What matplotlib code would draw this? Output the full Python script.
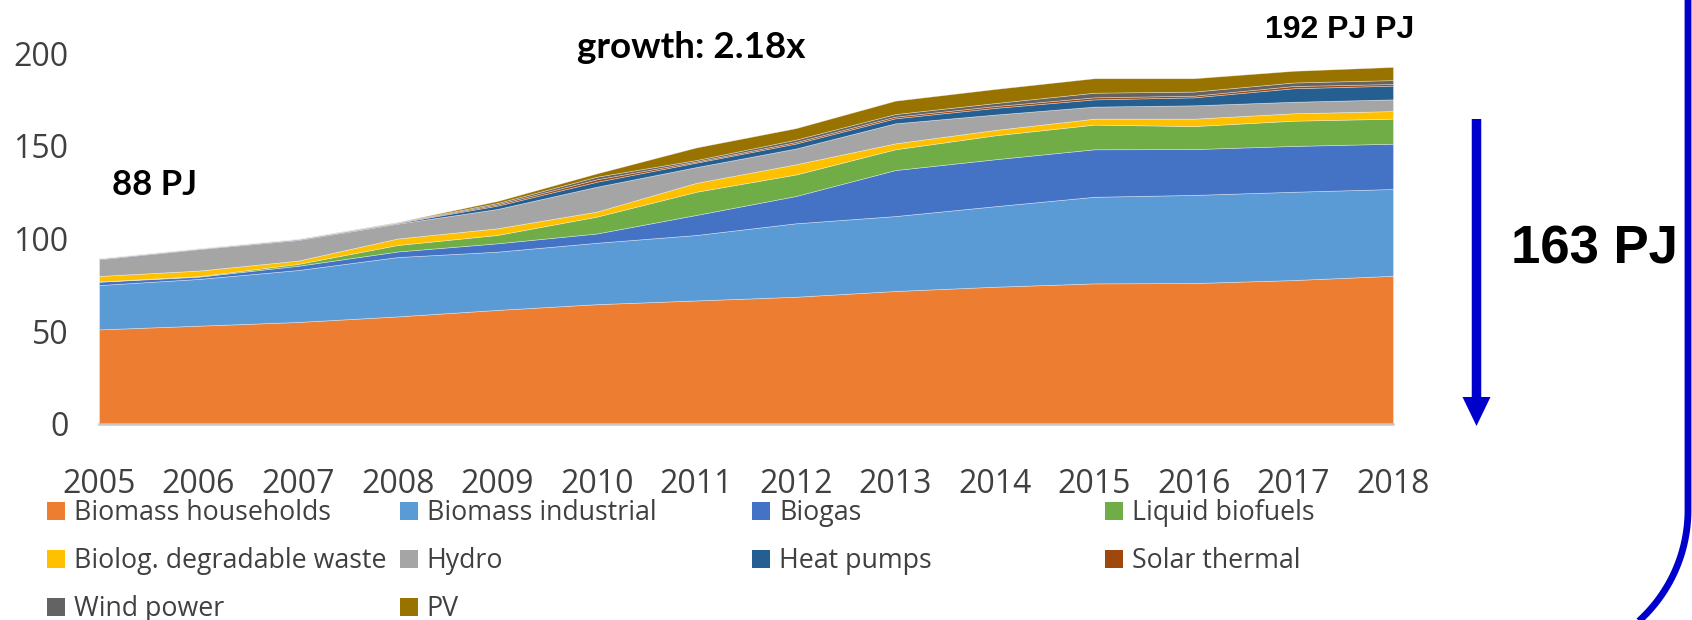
import numpy as np
import matplotlib
matplotlib.use("Agg")
import matplotlib.pyplot as plt
from matplotlib.patches import Polygon, Rectangle
from matplotlib.lines import Line2D

# ---------------- data ----------------
years = [2005, 2006, 2007, 2008, 2009, 2010, 2011, 2012, 2013, 2014, 2015, 2016, 2017, 2018]
series_labels = ["Biomass households", "Biomass industrial", "Biogas", "Liquid biofuels",
                 "Biolog. degradable waste", "Hydro", "Heat pumps", "Solar thermal",
                 "Wind power", "PV"]
biomass_households = [51.0, 53.0, 55.0, 58.0, 61.5, 64.6, 66.6, 68.6, 71.7, 74.0, 75.8, 76.0, 77.6, 79.9]
biomass_industrial = [23.9, 25.2, 28.0, 32.0, 31.4, 33.1, 35.3, 39.6, 40.4, 43.4, 46.7, 47.5, 47.6, 46.8]
biogas = [1.8, 1.2, 2.3, 3.0, 4.5, 5.0, 10.8, 14.7, 24.8, 25.3, 25.6, 24.7, 24.7, 24.4]
liquid_biofuels = [0.1, 0.3, 1.0, 3.5, 4.5, 9.1, 12.5, 11.6, 11.2, 12.9, 13.3, 12.4, 13.6, 13.5]
biolog_waste = [3.0, 3.0, 1.8, 3.5, 3.6, 2.7, 4.8, 5.5, 3.2, 2.9, 3.2, 4.0, 4.0, 4.1]
hydro = [9.0, 11.6, 11.1, 8.0, 10.4, 13.4, 8.5, 8.5, 10.8, 8.3, 6.5, 7.2, 6.2, 6.3]
heat_pumps = [0.4, 0.3, 0.4, 0.4, 1.8, 2.7, 2.4, 2.7, 2.7, 3.6, 3.9, 4.3, 7.3, 7.4]
solar_thermal = [0.1, 0.1, 0.2, 0.2, 0.7, 1.3, 0.6, 0.8, 0.9, 1.0, 1.1, 0.9, 1.2, 0.9]
wind_power = [0.1, 0.1, 0.1, 0.2, 0.7, 1.4, 0.8, 1.3, 1.4, 1.6, 2.5, 2.2, 1.9, 2.1]
pv = [0.0, 0.0, 0.0, 0.1, 1.1, 1.8, 6.8, 6.2, 7.2, 7.6, 7.8, 7.2, 6.3, 7.1]
yticks = [0, 50, 100, 150, 200]

annot_start = "88 PJ"
annot_growth = "growth: 2.18x"
annot_end = "192 PJ PJ"
annot_diff = "163 PJ"

colors = ["#ED7D31", "#5B9BD5", "#4472C4", "#70AD47", "#FFC000",
          "#A5A5A5", "#255E91", "#9E480E", "#636363", "#997300"]

# ---------------- figure ----------------
W, H = 1692, 620
fig = plt.figure(figsize=(W / 100, H / 100), dpi=100)
fig.patch.set_facecolor("white")

def fx(x):
    return x / W

def fy(y):
    return 1 - y / H

ax_l, ax_r, ax_b, ax_t = 99, 1393, 424, 53
ax = fig.add_axes([fx(ax_l), fy(ax_b), (ax_r - ax_l) / W, (ax_b - ax_t) / H])

all_series = [biomass_households, biomass_industrial, biogas, liquid_biofuels, biolog_waste,
              hydro, heat_pumps, solar_thermal, wind_power, pv]
ax.stackplot(years, *all_series, colors=colors, labels=series_labels,
             edgecolor=(1, 1, 1, 0.45), linewidth=0.5)

ax.set_xlim(years[0], years[-1])
ax.set_ylim(0, 200)
ax.set_yticks(yticks)
ax.set_xticks(years)
ax.set_xticklabels([str(y) for y in years])
for s in ["top", "right", "left"]:
    ax.spines[s].set_visible(False)
ax.spines["bottom"].set_color("#C8C8C8")
ax.spines["bottom"].set_linewidth(1.8)
ax.spines["bottom"].set_zorder(5)
ax.tick_params(axis="both", length=0, labelcolor="#404040")
ax.tick_params(axis="y", pad=22)
ax.tick_params(axis="x", pad=32)
for lab in ax.get_xticklabels() + ax.get_yticklabels():
    lab.set_fontfamily("Open Sans")
    lab.set_fontsize(23)
ax.set_facecolor("none")

# ---------------- legend (manual grid) ----------------
leg_x0, leg_dx, leg_y0, leg_dy, sq = 47, 352.7, 511, 48, 18
for i, (lab, col) in enumerate(zip(series_labels, colors)):
    c, r = i % 4, i // 4
    x = leg_x0 + c * leg_dx
    y = leg_y0 + r * leg_dy
    fig.add_artist(Rectangle((fx(x), fy(y + sq / 2)), sq / W, sq / H,
                             transform=fig.transFigure, facecolor=col, edgecolor="none"))
    fig.text(fx(x + 27), fy(y + 9), lab, ha="left", va="baseline",
             fontsize=19.3, color="#404040", family="Open Sans")

# ---------------- annotations ----------------
fig.text(fx(112), fy(195), annot_start, ha="left", va="baseline",
         fontsize=25, fontweight="bold", family="Lato", color="black")
fig.text(fx(577), fy(58), annot_growth, ha="left", va="baseline",
         fontsize=26.5, fontweight="bold", family="Lato", color="black")
fig.text(fx(1265), fy(38), annot_end, ha="left", va="baseline",
         fontsize=23, fontweight="bold", family="Liberation Sans", color="black")
fig.text(fx(1511), fy(263), annot_diff, ha="left", va="baseline",
         fontsize=38, fontweight="bold", family="Liberation Sans", color="black")

# down arrow
blue = "#0000CC"
sx, sw = 1476.5, 9.5
arrow_px = [(sx - sw / 2, 119), (sx + sw / 2, 119), (sx + sw / 2, 397), (sx + 14, 397),
            (sx, 426), (sx - 14, 397), (sx - sw / 2, 397)]
fig.add_artist(Polygon([(fx(a), fy(b)) for a, b in arrow_px], closed=True,
                       transform=fig.transFigure, facecolor=blue, edgecolor="none"))

# rounded bracket on the right
lx, ly, rad = 1688, 510, 150
t = np.linspace(0, np.deg2rad(65), 60)
px = np.concatenate([[lx, lx], (lx - rad) + rad * np.cos(t)])
py = np.concatenate([[-10, ly], ly + rad * np.sin(t)])
fig.add_artist(Line2D(fx(px), fy(py), transform=fig.transFigure, color=blue,
                      linewidth=4.9, solid_capstyle="butt"))

fig.savefig("out.png", dpi=100, facecolor="white")
